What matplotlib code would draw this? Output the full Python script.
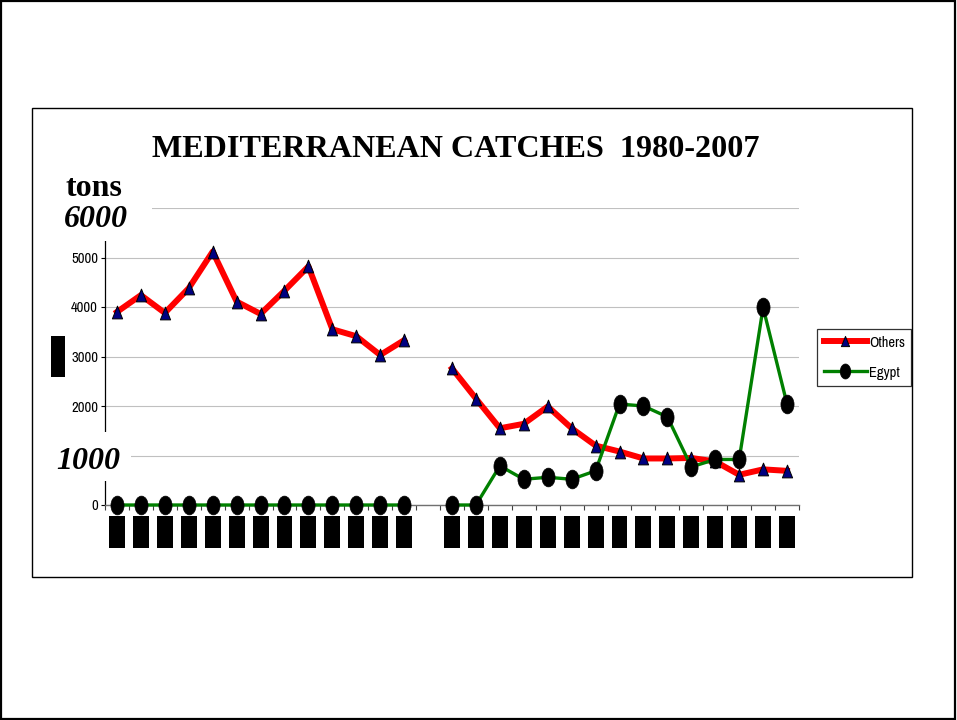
import numpy as np
import matplotlib
matplotlib.use("Agg")
import matplotlib.pyplot as plt
from matplotlib.path import Path
from matplotlib.patches import Rectangle

# ---------------- data ----------------
years = ['1980', '1981', '1982', '1983', '1984', '1985', '1986', '1987', '1988',
         '1989', '1990', '1991', '1992', '', '1993', '1994', '1995', '1996',
         '1997', '1998', '1999', '2000', '2001', '2002', '2003', '2004', '2005',
         '2006', '2007']
others = [3900, 4240, 3880, 4380, 5120, 4110, 3860, 4330, 4820, 3550, 3410, 3030,
          3330, np.nan, 2760, 2150, 1550, 1640, 1990, 1550, 1200, 1080, 940, 940,
          950, 880, 610, 720, 690]
egypt = [0, 0, 0, 0, 0, 0, 0, 0, 0, 0, 0, 0, 0, np.nan, 0, 0, 790, 520, 560, 520,
         690, 2040, 2000, 1780, 770, 920, 920, 3990, 2040]
series_names = ['Others', 'Egypt']
title = 'MEDITERRANEAN CATCHES  1980-2007'
y_ticks = [0, 1000, 2000, 3000, 4000, 5000, 6000]
y_ticklabels = ['0', '', '2000', '3000', '4000', '5000', '']

# ---------------- figure ----------------
W, H = 957, 720
DPI = 100
fig = plt.figure(figsize=(W / DPI, H / DPI), dpi=DPI)
fig.patch.set_facecolor('white')

def fx(px):
    return px / W

def fy(py):
    return 1 - py / H

narrow = ['Liberation Sans Narrow', 'Archivo Narrow', 'Liberation Sans', 'DejaVu Sans']
serif = ['Liberation Serif', 'DejaVu Serif']

# outer border and chart frame
fig.patches.append(Rectangle((fx(0.8), fy(719.2)), fx(954.5), 718.4 / H,
                             transform=fig.transFigure, fill=False,
                             edgecolor='black', lw=1.6, zorder=0))
fig.patches.append(Rectangle((fx(31.5), fy(576.5)), fx(912 - 31.5), (576.5 - 107.5) / H,
                             transform=fig.transFigure, fill=False,
                             edgecolor='black', lw=1.0, zorder=0))

# plot area
x0, x1, ytop, ybot = 105, 799, 208, 505
ax = fig.add_axes([fx(x0), fy(ybot), fx(x1 - x0), (ybot - ytop) / H])
ax.set_facecolor('none')
n = len(years)
x = np.arange(n)
ax.set_xlim(-0.5, n - 0.5)
ax.set_ylim(0, 6000)

for s in ['top', 'right']:
    ax.spines[s].set_visible(False)
ax.spines['left'].set_color('black')
ax.spines['left'].set_linewidth(0.9)
ax.spines['bottom'].set_color('#707070')
ax.spines['bottom'].set_linewidth(1.0)

ax.set_yticks(y_ticks)
ax.set_yticklabels(y_ticklabels, family=narrow, fontsize=10.5)
ax.yaxis.grid(True, color='#c0c0c0', lw=0.8)
ax.set_axisbelow(True)
ax.tick_params(axis='y', direction='out', length=3, width=0.8, pad=2, colors='black')

ax.set_xticks(np.arange(-0.5, n, 1.0))
ax.set_xticklabels([])
ax.tick_params(axis='x', which='major', direction='out', length=3.5, width=0.8,
               color='#404040')
ax.set_xticks(x, minor=True)
ax.set_xticklabels(years, minor=True, rotation=90, family='Liberation Sans', fontsize=9.9)
ax.tick_params(axis='x', which='minor', length=0, pad=8.4)
for lab in ax.get_xticklabels(minor=True):
    if lab.get_text():
        lab.set_color('black')
        lab.set_bbox(dict(boxstyle='square,pad=0.07', facecolor='black', edgecolor='none'))

# markers
tri = Path([(0, 1), (-0.8, -1), (0.8, -1), (0, 1)],
           [Path.MOVETO, Path.LINETO, Path.LINETO, Path.CLOSEPOLY])
circ = Path.unit_circle()
ell = Path(circ.vertices * np.array([0.7, 1.0]), circ.codes)

ax.plot(x, others, color='#ff0000', lw=4.3, marker=tri, ms=9.2,
        markerfacecolor='#000080', markeredgecolor='black', markeredgewidth=0.7,
        label=series_names[0], zorder=3, clip_on=False)
ax.plot(x, egypt, color='#008000', lw=2.4, marker=ell, ms=13.5,
        markerfacecolor='black', markeredgecolor='black', markeredgewidth=0.5,
        label=series_names[1], zorder=4, clip_on=False)

# y-axis title block (rotated)
ax.text((58 - x0) / (x1 - x0), 0.5, 'tonnes', transform=ax.transAxes, rotation=90,
        ha='center', va='center', family='Liberation Sans', fontsize=9.4, color='black',
        bbox=dict(boxstyle='square,pad=0.08', facecolor='black', edgecolor='none'))

# white masks behind the big italic labels
fig.patches.append(Rectangle((fx(55), fy(241)), fx(151.5 - 55), (241 - 198) / H,
                             transform=fig.transFigure, facecolor='white',
                             edgecolor='none', zorder=2))
fig.patches.append(Rectangle((fx(48), fy(481)), fx(131 - 48), (481 - 431.5) / H,
                             transform=fig.transFigure, facecolor='white',
                             edgecolor='none', zorder=2))

# texts
fig.text(fx(455.8), fy(156.7), title, ha='center', va='baseline', family=serif,
         fontweight='bold', fontsize=23.1, zorder=5)
fig.text(fx(65), fy(196), 'tons', ha='left', va='baseline', family=serif,
         fontweight='bold', fontsize=23, zorder=5)
fig.text(fx(64), fy(227.3), '6000', ha='left', va='baseline', family=serif,
         fontweight='bold', fontstyle='italic', fontsize=23, zorder=5)
fig.text(fx(56), fy(469.3), '1000', ha='left', va='baseline', family=serif,
         fontweight='bold', fontstyle='italic', fontsize=23, zorder=5)

# legend
leg = ax.legend(loc='upper left', bbox_to_anchor=(fx(817), fy(329)),
                bbox_transform=fig.transFigure, borderaxespad=0, frameon=True,
                fancybox=False, shadow=False, numpoints=1, handlelength=3.0,
                handletextpad=0.1, labelspacing=1.1, borderpad=0.45,
                prop={'family': narrow, 'size': 10.5}, markerscale=0.8)
leg.get_frame().set_edgecolor('black')
leg.get_frame().set_linewidth(0.9)

fig.savefig('out.png', dpi=DPI)
